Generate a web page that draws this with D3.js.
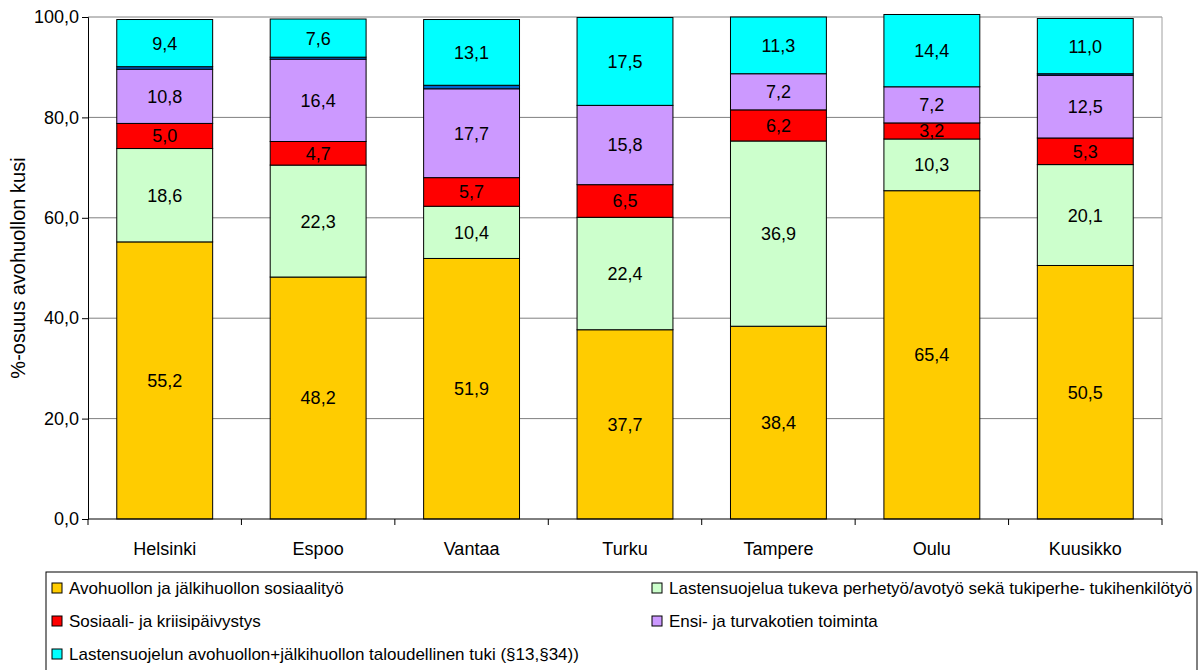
<!DOCTYPE html>
<html>
<head>
<meta charset="utf-8">
<script src="https://cdn.jsdelivr.net/npm/d3@7"></script>
<style>
  body { margin: 0; background: #fff; }
  svg { font-family: "Liberation Sans", Arial, sans-serif; }
</style>
</head>
<body>
<div id="container"></div>
<script>
/* DATA */
const cities = ["Helsinki", "Espoo", "Vantaa", "Turku", "Tampere", "Oulu", "Kuusikko"];
const seriesNames = [
  "Avohuollon ja jälkihuollon sosiaalityö",
  "Lastensuojelua tukeva perhetyö/avotyö sekä tukiperhe- tukihenkilötyö",
  "Sosiaali- ja kriisipäivystys",
  "Ensi- ja turvakotien toiminta",
  "Muu",
  "Lastensuojelun avohuollon+jälkihuollon taloudellinen tuki (§13,§34))"
];
const sosiaalityo = [55.2, 48.2, 51.9, 37.7, 38.4, 65.4, 50.5];
const perhetyo    = [18.6, 22.3, 10.4, 22.4, 36.9, 10.3, 20.1];
const paivystys   = [5.0, 4.7, 5.7, 6.5, 6.2, 3.2, 5.3];
const turvakodit  = [10.8, 16.4, 17.7, 15.8, 7.2, 7.2, 12.5];
const muu         = [0.5, 0.4, 0.7, 0.0, 0.0, 0.0, 0.3];
const tuki        = [9.4, 7.6, 13.1, 17.5, 11.3, 14.4, 11.0];
const yTicks = [0, 20, 40, 60, 80, 100];

const colors = ["#FFCC00", "#CCFFCC", "#FF0000", "#CC99FF", "#0066CC", "#00FFFF"];
const keys = ["s0", "s1", "s2", "s3", "s4", "s5"];
const legendOrder = [0, 1, 2, 3, 5]; // Muu is not in the legend

const data = cities.map((c, i) => ({
  city: c,
  s0: sosiaalityo[i], s1: perhetyo[i], s2: paivystys[i],
  s3: turvakodit[i], s4: muu[i], s5: tuki[i]
}));

/* LAYOUT */
const width = 1203, height = 670;
const margin = {top: 17, left: 88, right: 41, bottom: 151};
const fmt = v => d3.format(".1f")(v).replace(".", ",");

const svg = d3.select("#container")
  .append("svg")
  .attr("width", width)
  .attr("height", height);

// SCALES
const xScale = d3.scaleBand()
  .domain(cities)
  .range([margin.left, width - margin.right])
  .paddingInner(0.375)
  .paddingOuter(0.1875);

const yScale = d3.scaleLinear()
  .domain([0, 100])
  .range([height - margin.bottom, margin.top]);

// GRIDLINES
svg.append("g")
  .selectAll("line")
  .data(yTicks.filter(d => d > 0))
  .join("line")
  .attr("x1", margin.left)
  .attr("x2", width - margin.right)
  .attr("y1", d => yScale(d))
  .attr("y2", d => yScale(d))
  .attr("stroke", "#808080")
  .attr("stroke-width", 1);

// plot area right border
svg.append("line")
  .attr("x1", width - margin.right).attr("x2", width - margin.right)
  .attr("y1", margin.top).attr("y2", height - margin.bottom)
  .attr("stroke", "#a0a0a0");

// STACKED BARS
const stack = d3.stack().keys(keys)(data);

const layers = svg.append("g")
  .selectAll("g")
  .data(stack)
  .join("g")
  .attr("fill", (d, i) => colors[i]);

layers.selectAll("rect")
  .data(d => d)
  .join("rect")
  .attr("x", d => xScale(d.data.city))
  .attr("width", xScale.bandwidth())
  .attr("y", d => yScale(d[1]))
  .attr("height", d => yScale(d[0]) - yScale(d[1]))
  .attr("stroke", "#000")
  .attr("stroke-width", 1);

// VALUE LABELS
layers.filter((d, i) => i !== 4)
  .selectAll("text")
  .data(d => d)
  .join("text")
  .attr("x", d => xScale(d.data.city) + xScale.bandwidth() / 2)
  .attr("y", d => (yScale(d[0]) + yScale(d[1])) / 2)
  .attr("dy", "0.36em")
  .attr("text-anchor", "middle")
  .attr("fill", "#000")
  .attr("font-size", 18)
  .text(d => fmt(d[1] - d[0]));

// AXES
const yAxis = d3.axisLeft(yScale)
  .tickValues(yTicks)
  .tickFormat(fmt)
  .tickSize(6)
  .tickPadding(3);

svg.append("g")
  .attr("transform", `translate(${margin.left},0)`)
  .call(yAxis)
  .call(g => g.selectAll("text").attr("font-size", 18).attr("fill", "#000"))
  .call(g => g.selectAll("line, path").attr("stroke", "#000"));

const xAxis = svg.append("g")
  .attr("transform", `translate(0,${height - margin.bottom})`);

xAxis.append("line")
  .attr("x1", margin.left).attr("x2", width - margin.right)
  .attr("stroke", "#000");

const step = xScale.step();
const boundaries = d3.range(cities.length + 1).map(i => margin.left + i * step * (width - margin.left - margin.right) / (step * cities.length));
xAxis.selectAll(".tick")
  .data(boundaries)
  .join("line")
  .attr("x1", d => d).attr("x2", d => d)
  .attr("y1", 0).attr("y2", 6)
  .attr("stroke", "#000");

xAxis.selectAll("text")
  .data(cities)
  .join("text")
  .attr("x", d => xScale(d) + xScale.bandwidth() / 2)
  .attr("y", 36)
  .attr("text-anchor", "middle")
  .attr("font-size", 18)
  .text(d => d);

// Y AXIS TITLE
svg.append("text")
  .attr("transform", `translate(25,${(margin.top + height - margin.bottom) / 2}) rotate(-90)`)
  .attr("text-anchor", "middle")
  .attr("font-size", 20)
  .text("%-osuus avohuollon kusi");

// LEGEND
const legX = 46, legY = 572, legW = 1151;
svg.append("defs").append("clipPath")
  .attr("id", "legclip")
  .append("rect")
  .attr("x", legX).attr("y", legY).attr("width", legW).attr("height", 110);

svg.append("rect")
  .attr("x", legX).attr("y", legY)
  .attr("width", legW).attr("height", 110)
  .attr("fill", "#fff")
  .attr("stroke", "#000");

const legend = svg.append("g").attr("clip-path", "url(#legclip)")
  .selectAll("g")
  .data(legendOrder)
  .join("g")
  .attr("transform", (d, i) => `translate(${legX + 6 + (i % 2) * 600},${legY + 16 + Math.floor(i / 2) * 33})`);

legend.append("rect")
  .attr("x", 0).attr("y", -5)
  .attr("width", 10).attr("height", 10)
  .attr("fill", d => colors[d])
  .attr("stroke", "#000");

legend.append("text")
  .attr("x", 17)
  .attr("dy", "0.36em")
  .attr("font-size", 17)
  .text(d => seriesNames[d]);
</script>
</body>
</html>
